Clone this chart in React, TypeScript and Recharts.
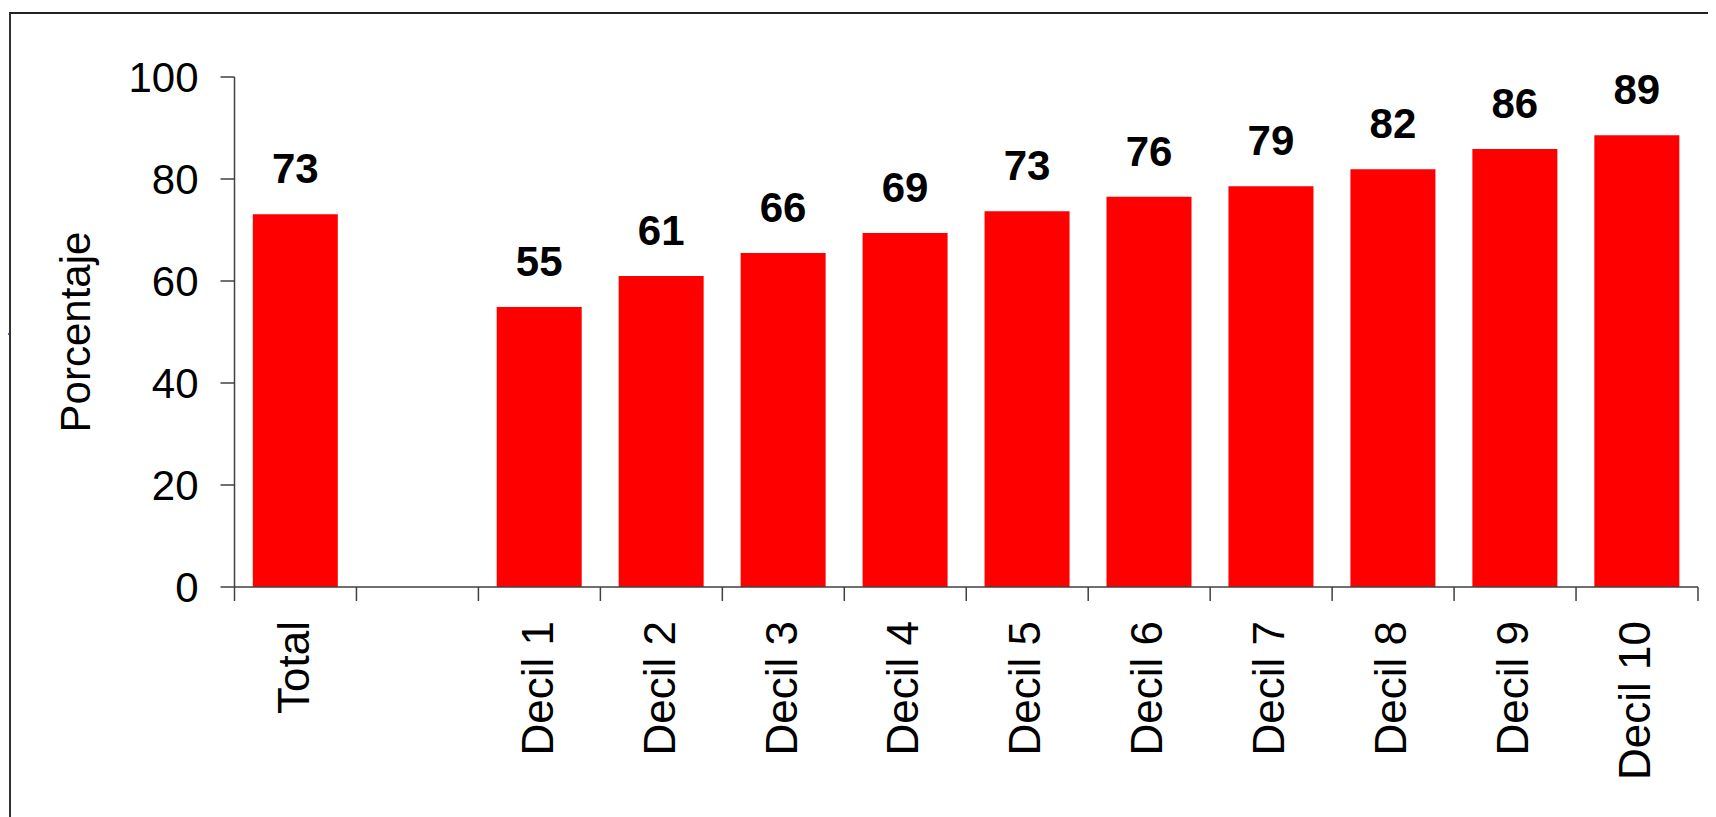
import React from 'react';
import { BarChart, Bar, XAxis, YAxis, LabelList, Label } from 'recharts';

const categories = ['Total', '', 'Decil 1', 'Decil 2', 'Decil 3', 'Decil 4', 'Decil 5', 'Decil 6', 'Decil 7', 'Decil 8', 'Decil 9', 'Decil 10'];
const values = [73.1, null, 54.9, 61.0, 65.5, 69.4, 73.7, 76.5, 78.6, 81.9, 85.9, 88.6];
const valueLabels = ['73', '', '55', '61', '66', '69', '73', '76', '79', '82', '86', '89'];
const yTicks = [0, 20, 40, 60, 80, 100];

const FONT = 'Arial, "Liberation Sans", sans-serif';
const AXIS_COLOR = '#404040';
const TICK_SIZE = 14;
const TICK_MARGIN = 20;

const data = categories.map((name, i) => ({ name, value: values[i], label: valueLabels[i] }));

// category axis tick: label rotated, tick marks on the band edges (Excel style)
function CategoryTick(props: any) {
  const { x, y, payload, index } = props;
  const half = payload.offset || 0;
  const axisY = y - TICK_MARGIN - TICK_SIZE;
  const isLast = index === categories.length - 1;
  return (
    <g>
      <line x1={x - half} x2={x - half} y1={axisY} y2={axisY + TICK_SIZE} stroke={AXIS_COLOR} strokeWidth={1.5} />
      {isLast && (
        <line x1={x + half} x2={x + half} y1={axisY} y2={axisY + TICK_SIZE} stroke={AXIS_COLOR} strokeWidth={1.5} />
      )}
      <text
        x={x}
        y={y}
        transform={`rotate(-90, ${x}, ${y})`}
        textAnchor="end"
        dy="0.3em"
        fontSize={44}
        fontFamily={FONT}
        fill="#000"
      >
        {payload.value}
      </text>
    </g>
  );
}

function YTitle(props: any) {
  const { viewBox } = props;
  const cx = viewBox.x + 82;
  const cy = viewBox.y + viewBox.height / 2;
  return (
    <text
      x={cx}
      y={cy}
      transform={`rotate(-90, ${cx}, ${cy})`}
      textAnchor="middle"
      fontSize={42}
      fontFamily={FONT}
      fill="#000"
    >
      Porcentaje
    </text>
  );
}

export default function App() {
  return (
    <div style={{ position: 'relative', width: 1708, height: 809 }}>
      <div style={{ position: 'relative', width: 1708, height: 809, overflow: 'hidden', background: '#fff' }}>
        <div
          style={{
            position: 'absolute',
            left: 1,
            top: 4,
            right: -10,
            bottom: -10,
            borderLeft: '2px solid #333',
            borderTop: '2px solid #222',
          }}
        />
        <BarChart
          width={1708}
          height={809}
          data={data}
          margin={{ top: 69, right: 18, bottom: 0, left: 0 }}
          barCategoryGap="15%"
          style={{ position: 'absolute', left: 0, top: 0 }}
        >
          <XAxis
            dataKey="name"
            interval={0}
            height={230}
            tickLine={false}
            tickSize={TICK_SIZE}
            tickMargin={TICK_MARGIN}
            axisLine={{ stroke: AXIS_COLOR, strokeWidth: 1.5 }}
            tick={<CategoryTick />}
          />
          <YAxis
            width={226.5}
            domain={[0, 100]}
            ticks={yTicks}
            tickSize={TICK_SIZE}
            tickMargin={22}
            tickLine={{ stroke: AXIS_COLOR, strokeWidth: 1.5 }}
            axisLine={{ stroke: AXIS_COLOR, strokeWidth: 1.5 }}
            tick={{ fontSize: 42, fontFamily: FONT, fill: '#000' }}
          >
            <Label content={<YTitle />} />
          </YAxis>
          <Bar dataKey="value" fill="#FF0000" isAnimationActive={false}>
            <LabelList
              dataKey="label"
              position="top"
              offset={31}
              fontSize={42}
              fontWeight="bold"
              fontFamily={FONT}
              fill="#000"
            />
          </Bar>
        </BarChart>
      </div>
      <div style={{ position: 'absolute', left: -8, top: 325, width: 9, height: 2, background: '#4169e1', zIndex: 5 }} />
    </div>
  );
}
